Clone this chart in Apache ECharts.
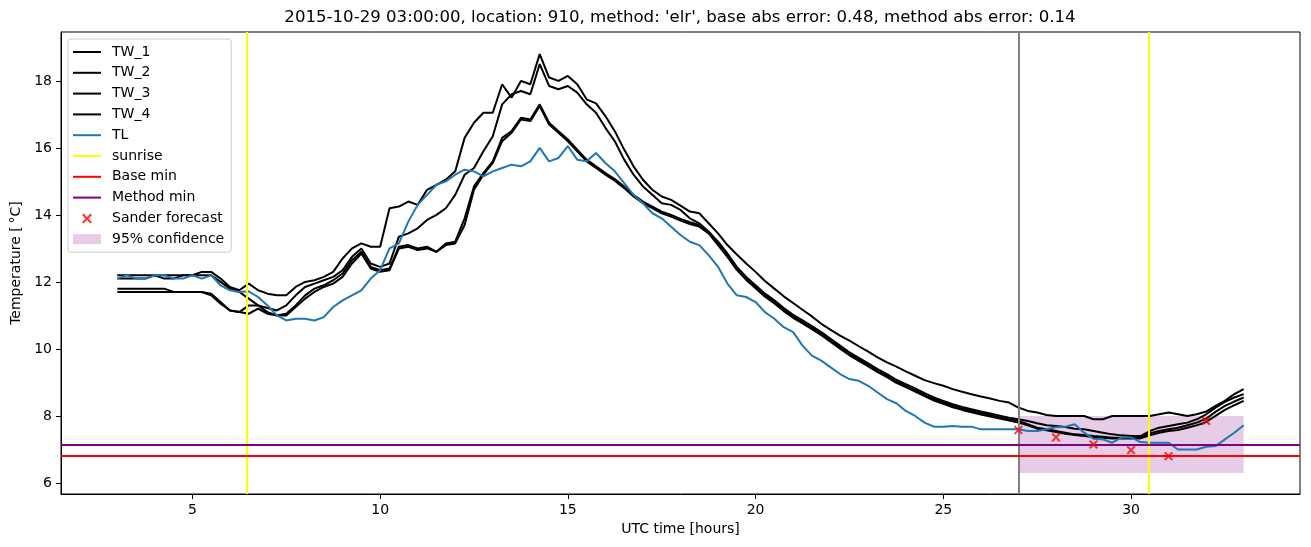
<!DOCTYPE html>
<html><head><meta charset="utf-8">
<script src="https://cdn.jsdelivr.net/npm/echarts@6/dist/echarts.min.js"></script>
<style>html,body{margin:0;padding:0;background:#fff}#c{width:1311px;height:547px}</style>
</head><body><div id="c"></div>
<script>
const times = [3,3.25,3.5,3.75,4,4.25,4.5,4.75,5,5.25,5.5,5.75,6,6.25,6.5,6.75,7,7.25,7.5,7.75,8,8.25,8.5,8.75,9,9.25,9.5,9.75,10,10.25,10.5,10.75,11,11.25,11.5,11.75,12,12.25,12.5,12.75,13,13.25,13.5,13.75,14,14.25,14.5,14.75,15,15.25,15.5,15.75,16,16.25,16.5,16.75,17,17.25,17.5,17.75,18,18.25,18.5,18.75,19,19.25,19.5,19.75,20,20.25,20.5,20.75,21,21.25,21.5,21.75,22,22.25,22.5,22.75,23,23.25,23.5,23.75,24,24.25,24.5,24.75,25,25.25,25.5,25.75,26,26.25,26.5,26.75,27,27.25,27.5,27.75,28,28.25,28.5,28.75,29,29.25,29.5,29.75,30,30.25,30.5,30.75,31,31.25,31.5,31.75,32,32.25,32.5,32.75,33];

const TL = [12.1,12.2,12.1,12.1,12.2,12.2,12.1,12.1,12.2,12.1,12.2,11.9,
11.75,11.7,11.72,11.55,11.3,11.0,10.85,10.9,10.9,10.85,10.95,11.25,
11.45,11.6,11.75,12.1,12.35,13.0,13.15,13.8,14.3,14.6,14.9,15.0,
15.2,15.35,15.3,15.15,15.3,15.4,15.5,15.45,15.6,16.0,15.6,15.7,
16.05,15.65,15.6,15.85,15.55,15.3,14.95,14.6,14.35,14.05,13.9,13.65,
13.4,13.2,13.1,12.8,12.45,11.95,11.6,11.55,11.4,11.1,10.9,10.65,
10.5,10.1,9.8,9.65,9.45,9.25,9.1,9.05,8.9,8.7,8.5,8.38,
8.15,8.0,7.8,7.68,7.68,7.7,7.68,7.68,7.6,7.6,7.6,7.6,
7.6,7.55,7.55,7.6,7.66,7.68,7.75,7.5,7.32,7.3,7.2,7.36,
7.36,7.22,7.2,7.2,7.2,7.0,7.0,7.0,7.08,7.1,7.3,7.5,
7.72];

const TW_1 = [12.2,12.2,12.2,12.2,12.2,12.2,12.2,12.2,12.2,12.3,12.3,12.1,
11.85,11.75,11.95,11.75,11.65,11.6,11.6,11.85,12.0,12.05,12.15,12.3,
12.7,13.0,13.15,13.05,13.05,14.2,14.25,14.4,14.3,14.75,14.9,15.05,
15.3,16.3,16.75,17.05,17.05,17.9,17.5,18.0,17.9,18.8,18.1,18.0,
18.15,17.9,17.45,17.33,16.95,16.5,15.95,15.45,15.05,14.75,14.55,14.45,
14.28,14.1,14.05,13.75,13.45,13.1,12.82,12.55,12.3,12.03,11.8,11.57,
11.37,11.17,10.97,10.75,10.57,10.4,10.25,10.08,9.92,9.75,9.6,9.47,
9.33,9.2,9.07,8.98,8.9,8.8,8.72,8.65,8.58,8.52,8.45,8.4,
8.25,8.15,8.1,8.03,8.0,8.0,8.0,8.0,7.9,7.9,8.0,8.0,
8.0,8.0,8.0,8.05,8.1,8.05,8.0,8.05,8.13,8.3,8.45,8.65,
8.8];

const TW_2 = [12.1,12.1,12.1,12.1,12.2,12.1,12.1,12.2,12.2,12.2,12.2,12.0,
11.8,11.7,11.5,11.3,11.22,11.15,11.3,11.6,11.85,11.95,12.05,12.15,
12.35,12.75,13.0,12.55,12.45,12.55,13.35,13.45,13.6,13.85,14.0,14.2,
14.6,15.2,15.4,15.9,16.35,17.3,17.6,17.7,17.6,18.5,17.85,17.75,
17.85,17.65,17.3,17.05,16.6,16.2,15.65,15.2,14.85,14.6,14.35,14.3,
14.15,13.9,13.75,13.5,13.2,12.85,12.45,12.15,11.9,11.65,11.45,11.22,
11.02,10.85,10.68,10.5,10.3,10.1,9.9,9.73,9.57,9.4,9.25,9.08,
8.95,8.82,8.68,8.55,8.45,8.35,8.27,8.2,8.13,8.07,8.01,7.95,
7.9,7.85,7.78,7.72,7.7,7.67,7.62,7.6,7.55,7.5,7.45,7.42,
7.4,7.4,7.55,7.65,7.7,7.75,7.8,7.9,8.05,8.25,8.42,8.55,
8.65];

const TW_3 = [11.8,11.8,11.8,11.8,11.8,11.8,11.7,11.7,11.7,11.7,11.65,11.4,
11.15,11.1,11.3,11.3,11.1,11.0,11.05,11.3,11.6,11.8,11.9,12.05,
12.25,12.65,12.9,12.45,12.35,12.4,13.05,13.1,13.0,13.05,12.9,13.15,
13.2,13.9,14.85,15.25,15.6,16.3,16.5,16.9,16.85,17.3,16.75,16.5,
16.25,15.95,15.65,15.45,15.25,15.07,14.85,14.6,14.4,14.25,14.1,14.0,
13.88,13.78,13.7,13.5,13.15,12.8,12.4,12.1,11.85,11.6,11.4,11.17,
10.97,10.8,10.63,10.45,10.25,10.05,9.85,9.68,9.52,9.35,9.2,9.03,
8.9,8.77,8.63,8.5,8.4,8.3,8.22,8.15,8.08,8.02,7.96,7.9,
7.85,7.75,7.65,7.6,7.55,7.5,7.45,7.43,7.4,7.38,7.35,7.35,
7.35,7.35,7.48,7.55,7.6,7.65,7.72,7.8,7.92,8.12,8.3,8.43,
8.55];

const TW_4 = [11.7,11.7,11.7,11.7,11.7,11.7,11.7,11.7,11.7,11.7,11.6,11.35,
11.15,11.1,11.05,11.2,11.05,11.0,11.0,11.25,11.5,11.7,11.85,11.95,
12.15,12.55,12.85,12.4,12.3,12.35,13.0,13.05,12.95,13.0,12.9,13.1,
13.15,13.7,14.75,15.2,15.55,16.2,16.45,16.85,16.8,17.25,16.7,16.45,
16.2,15.9,15.6,15.4,15.2,15.02,14.8,14.55,14.35,14.2,14.05,13.95,
13.83,13.73,13.65,13.45,13.1,12.75,12.36,12.06,11.81,11.56,11.36,11.13,
10.93,10.76,10.59,10.41,10.21,10.01,9.81,9.64,9.48,9.31,9.16,8.99,
8.86,8.73,8.59,8.46,8.36,8.26,8.18,8.11,8.04,7.98,7.92,7.86,
7.8,7.72,7.62,7.57,7.52,7.47,7.43,7.4,7.37,7.35,7.33,7.33,
7.33,7.33,7.42,7.5,7.55,7.58,7.65,7.72,7.82,8.0,8.18,8.32,
8.45];

const sunriseTimes = [6.45, 30.48];
const forecastStartTime = 27;
const baseMin = 6.81;
const methodMin = 7.13;
const forecastTimes = [27, 28, 29, 30, 31, 32];
const forecastValues = [7.58, 7.36, 7.15, 6.98, 6.8, 7.85];
const ciTimes = [27, 33];
const ciBounds = [6.3, 8.0];
const xTicks = [5, 10, 15, 20, 25, 30];
const yTicks = [6, 8, 10, 12, 14, 16, 18];

const FONT = 'DejaVu Sans';
const pair = (ys) => times.map((t, i) => [t, ys[i]]);
const linePath = 'path://M0,0H28V2H0Z';
const crossPath = 'path://M0,1.5L1.5,0L5,3.5L8.5,0L10,1.5L6.5,5L10,8.5L8.5,10L5,6.5L1.5,10L0,8.5L3.5,5Z';

function lineSeries(name, ys, color, z) {
  return {name, type: 'line', data: pair(ys), showSymbol: false, symbol: 'none',
    lineStyle: {color, width: 2}, itemStyle: {color}, z, silent: true, animation: false};
}
function markSeries(name, color, data) {
  return {name, type: 'line', data: [], itemStyle: {color}, lineStyle: {color}, silent: true,
    markLine: {silent: true, symbol: ['none', 'none'], label: {show: false},
      lineStyle: {color, width: 2, type: 'solid'}, emphasis: {disabled: true},
      animation: false, data}};
}

const chart = echarts.init(document.getElementById('c'));
chart.setOption({
  animation: false,
  backgroundColor: '#fff',
  title: {
    text: "2015-10-29 03:00:00, location: 910, method: 'elr', base abs error: 0.48, method abs error: 0.14",
    left: 680, top: 9, textAlign: 'center', padding: 0,
    textStyle: {fontFamily: FONT, fontSize: 16.6, fontWeight: 'normal', color: '#000'}
  },
  grid: {left: 61, right: 11, top: 32, bottom: 53, show: true, borderColor: '#000', borderWidth: 1, backgroundColor: 'transparent'},
  xAxis: {
    type: 'value', min: 1.5, max: 34.5,
    name: 'UTC time [hours]', nameLocation: 'middle', nameGap: 28,
    nameTextStyle: {fontFamily: FONT, fontSize: 14, color: '#000'},
    axisLine: {show: true, onZero: false, lineStyle: {color: '#000', width: 1}},
    axisTick: {show: true, length: 5, lineStyle: {color: '#000', width: 1}, customValues: xTicks},
    axisLabel: {fontFamily: FONT, fontSize: 14, color: '#000', margin: 9, customValues: xTicks},
    splitLine: {show: false}
  },
  yAxis: {
    type: 'value', min: 5.67, max: 19.46,
    name: 'Temperature [\u2009°C]', nameLocation: 'middle', nameGap: 36,
    nameTextStyle: {fontFamily: FONT, fontSize: 14, color: '#000'},
    axisLine: {show: true, onZero: false, lineStyle: {color: '#000', width: 1}},
    axisTick: {show: true, length: 5, lineStyle: {color: '#000', width: 1}, customValues: yTicks},
    axisLabel: {fontFamily: FONT, fontSize: 14, color: '#000', margin: 9, customValues: yTicks},
    splitLine: {show: false}
  },
  legend: {
    left: 68, top: 39, orient: 'vertical', itemWidth: 28, itemHeight: 10, itemGap: 4.8,
    padding: [5, 7, 5, 5], backgroundColor: 'rgba(255,255,255,0.8)', borderColor: '#cccccc',
    borderWidth: 1, borderRadius: 3, selectedMode: false, symbolKeepAspect: true,
    textStyle: {fontFamily: FONT, fontSize: 14, color: '#000', lineHeight: 16, padding: [0, 0, 0, 6]},
    data: [
      {name: 'TW_1', icon: linePath}, {name: 'TW_2', icon: linePath},
      {name: 'TW_3', icon: linePath}, {name: 'TW_4', icon: linePath},
      {name: 'TL', icon: linePath}, {name: 'sunrise', icon: linePath},
      {name: 'Base min', icon: linePath}, {name: 'Method min', icon: linePath},
      {name: 'Sander forecast', icon: crossPath}, {name: '95% confidence', icon: 'rect'}
    ]
  },
  series: [
    {
      name: '95% confidence', type: 'custom', z: 1, silent: true,
      itemStyle: {color: 'rgba(128,0,128,0.2)'},
      data: [[ciTimes[0], ciTimes[1], ciBounds[1], ciBounds[0]]],
      encode: {x: [0, 1], y: [2, 3]},
      renderItem: function (params, api) {
        const p0 = api.coord([api.value(0), api.value(2)]);
        const p1 = api.coord([api.value(1), api.value(3)]);
        return {type: 'rect', shape: {x: p0[0], y: p0[1], width: p1[0] - p0[0], height: p1[1] - p0[1]},
          style: {fill: 'rgba(128,0,128,0.2)'}};
      }
    },
    lineSeries('TW_1', TW_1, '#000000', 2),
    lineSeries('TW_2', TW_2, '#000000', 2),
    lineSeries('TW_3', TW_3, '#000000', 2),
    lineSeries('TW_4', TW_4, '#000000', 2),
    lineSeries('TL', TL, '#1f77b4', 3),
    markSeries('forecast time', '#808080', [{xAxis: forecastStartTime}]),
    markSeries('sunrise', '#ffff00', sunriseTimes.map(t => ({xAxis: t}))),
    markSeries('Base min', '#ff0000', [{yAxis: baseMin}]),
    markSeries('Method min', '#800080', [{yAxis: methodMin}]),
    {
      name: 'Sander forecast', type: 'scatter', z: 6, silent: true,
      symbol: crossPath, symbolSize: 9,
      itemStyle: {color: '#ff0000'},
      data: forecastTimes.map((t, i) => [t, forecastValues[i]])
    }
  ]
});
</script>
</body></html>
